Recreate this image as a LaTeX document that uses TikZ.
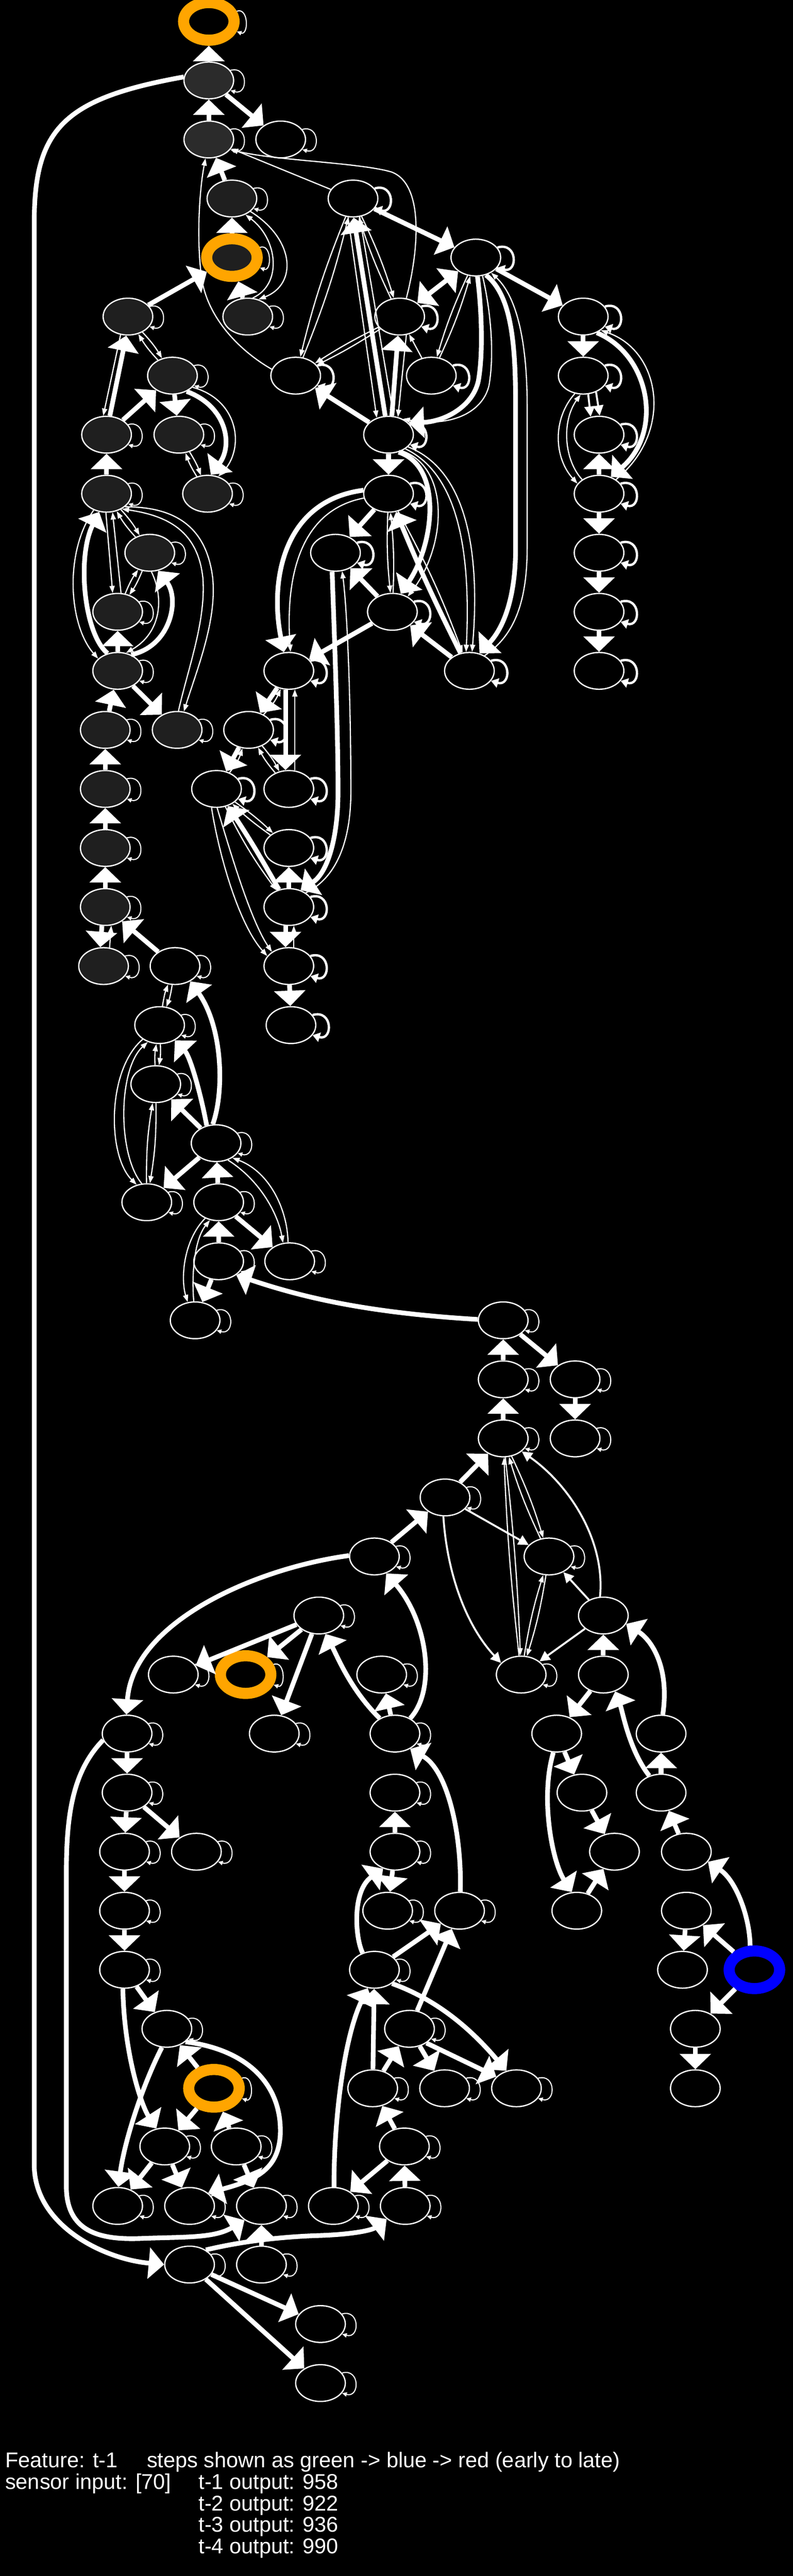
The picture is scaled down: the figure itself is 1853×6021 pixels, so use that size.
\documentclass[tikz,border=0pt]{standalone}
\usepackage{fontspec}
\setmainfont{Liberation Sans}
\usetikzlibrary{shapes.geometric,arrows.meta}
\definecolor{gA}{HTML}{2B2B2B}
\definecolor{gB}{HTML}{1F1F1F}
\definecolor{ornge}{HTML}{FFA500}
\definecolor{blu}{HTML}{0000FF}
\tikzset{
 nd/.style={ellipse, draw=white, line width=3pt, minimum width=116pt, minimum height=86pt, inner sep=0pt, fill=black},
 ngA/.style={nd, fill=gA},
 ngB/.style={nd, fill=gB},
 rng/.style={ellipse, line width=26pt, minimum width=118pt, minimum height=88pt, inner sep=0pt, fill=black},
 e1/.style={draw=white, line width=2.8pt, -{Triangle[length=17pt,width=12pt]}},
 e2/.style={draw=white, line width=4.5pt, -{Triangle[length=24pt,width=24pt]}},
 e4/.style={draw=white, line width=11pt, -{Triangle[length=36pt,width=72pt]}},
 e4d/.style={draw=white, line width=11pt, {Triangle[length=36pt,width=72pt]}-{Triangle[length=36pt,width=72pt]}},
 lp/.style={draw=white, line width=2.5pt, -{Triangle[length=11pt,width=10pt]}},
 lpt/.style={draw=white, line width=5.5pt, -{Triangle[length=17pt,width=22pt]}},
 txt/.style={text=white, anchor=base west, inner sep=0pt, font=\fontsize{50pt}{52pt}\selectfont}
}
\begin{document}
\begin{tikzpicture}[x=1pt,y=1pt]
\useasboundingbox (0,0) rectangle (1853,-6021);
\fill[black] (0,0) rectangle (1853,-6021);
% ---------- nodes ----------
\node[rng,draw=ornge] (n0a) at (488,-50) {};
\node[ngA] (n1a) at (488,-188) {};
\node[ngA] (n2a) at (488,-326) {};
\node[nd] (n2b) at (656,-326) {};
\node[ngB] (n3a) at (542,-464) {};
\node[nd] (n3b) at (825,-464) {};
\node[rng,draw=ornge,fill=gB] (n4a) at (542,-602) {};
\node[nd] (n4b) at (1112,-602) {};
\node[ngB] (n5a) at (299,-740) {};
\node[ngB] (n5b) at (579,-740) {};
\node[nd] (n5c) at (934,-740) {};
\node[nd] (n5d) at (1363,-740) {};
\node[ngB] (n6a) at (403,-878) {};
\node[nd] (n6b) at (691,-878) {};
\node[nd] (n6c) at (1008,-878) {};
\node[nd] (n6d) at (1363,-878) {};
\node[ngB] (n7a) at (249,-1016) {};
\node[ngB] (n7b) at (418,-1016) {};
\node[nd] (n7c) at (908,-1016) {};
\node[nd] (n7d) at (1400,-1016) {};
\node[ngB] (n8a) at (249,-1154) {};
\node[ngB] (n8b) at (485,-1154) {};
\node[nd] (n8c) at (908,-1154) {};
\node[nd] (n8d) at (1400,-1154) {};
\node[ngB] (n9a) at (350,-1292) {};
\node[nd] (n9b) at (784,-1292) {};
\node[nd] (n9c) at (1400,-1292) {};
\node[ngB] (n10a) at (275,-1430) {};
\node[nd] (n10b) at (917,-1430) {};
\node[nd] (n10c) at (1400,-1430) {};
\node[ngB] (n11a) at (275,-1568) {};
\node[nd] (n11b) at (675,-1568) {};
\node[nd] (n11c) at (1097,-1568) {};
\node[nd] (n11d) at (1400,-1568) {};
\node[ngB] (n12a) at (246,-1706) {};
\node[ngB] (n12b) at (414,-1706) {};
\node[nd] (n12c) at (581,-1706) {};
\node[ngB] (n13a) at (246,-1844) {};
\node[nd] (n13b) at (506,-1844) {};
\node[nd] (n13c) at (675,-1844) {};
\node[ngB] (n14a) at (246,-1982) {};
\node[nd] (n14b) at (675,-1982) {};
\node[ngB] (n15a) at (246,-2120) {};
\node[nd] (n15b) at (675,-2120) {};
\node[ngB] (n16a) at (242,-2258) {};
\node[nd] (n16b) at (409,-2258) {};
\node[nd] (n16c) at (675,-2258) {};
\node[nd] (n17a) at (373,-2396) {};
\node[nd] (n17b) at (680,-2396) {};
\node[nd] (n18a) at (364,-2534) {};
\node[nd] (n19a) at (505,-2672) {};
\node[nd] (n20a) at (343,-2810) {};
\node[nd] (n20b) at (511,-2810) {};
\node[nd] (n21a) at (511,-2948) {};
\node[nd] (n21b) at (677,-2948) {};
\node[nd] (n22a) at (456,-3086) {};
\node[nd] (n22b) at (1176,-3086) {};
\node[nd] (n23a) at (1176,-3224) {};
\node[nd] (n23b) at (1344,-3224) {};
\node[nd] (n24a) at (1176,-3362) {};
\node[nd] (n24b) at (1344,-3362) {};
\node[nd] (n25a) at (1040,-3500) {};
\node[nd] (n26a) at (875,-3638) {};
\node[nd] (n26b) at (1283,-3638) {};
\node[nd] (n27a) at (745,-3776) {};
\node[nd] (n27b) at (1410,-3776) {};
\node[nd] (n28a) at (405,-3914) {};
\node[rng,draw=ornge] (n28b) at (574,-3914) {};
\node[nd] (n28c) at (892,-3914) {};
\node[nd] (n28d) at (1218,-3914) {};
\node[nd] (n28e) at (1410,-3914) {};
\node[nd] (n29a) at (297,-4052) {};
\node[nd] (n29b) at (641,-4052) {};
\node[nd] (n29c) at (923,-4052) {};
\node[nd] (n29d) at (1301,-4052) {};
\node[nd] (n29e) at (1545,-4052) {};
\node[nd] (n30a) at (297,-4190) {};
\node[nd] (n30b) at (923,-4190) {};
\node[nd] (n30c) at (1360,-4190) {};
\node[nd] (n30d) at (1545,-4190) {};
\node[nd] (n31a) at (291,-4328) {};
\node[nd] (n31b) at (459,-4328) {};
\node[nd] (n31c) at (923,-4328) {};
\node[nd] (n31d) at (1436,-4328) {};
\node[nd] (n31e) at (1604,-4328) {};
\node[nd] (n32a) at (291,-4466) {};
\node[nd] (n32b) at (906,-4466) {};
\node[nd] (n32c) at (1074,-4466) {};
\node[nd] (n32d) at (1348,-4466) {};
\node[nd] (n32e) at (1604,-4466) {};
\node[nd] (n33a) at (291,-4604) {};
\node[nd] (n33b) at (875,-4604) {};
\node[nd] (n33c) at (1595,-4604) {};
\node[rng,draw=blu] (n33d) at (1763,-4604) {};
\node[nd] (n34a) at (390,-4742) {};
\node[nd] (n34b) at (957,-4742) {};
\node[nd] (n34c) at (1625,-4742) {};
\node[rng,draw=ornge] (n35a) at (500,-4881) {};
\node[nd] (n35b) at (871,-4881) {};
\node[nd] (n35c) at (1039,-4881) {};
\node[nd] (n35d) at (1207,-4881) {};
\node[nd] (n35e) at (1625,-4881) {};
\node[nd] (n36a) at (385,-5017) {};
\node[nd] (n36b) at (552,-5017) {};
\node[nd] (n36c) at (945,-5017) {};
\node[nd] (n37a) at (275,-5156) {};
\node[nd] (n37b) at (443,-5156) {};
\node[nd] (n37c) at (611,-5156) {};
\node[nd] (n37d) at (779,-5156) {};
\node[nd] (n37e) at (947,-5156) {};
\node[nd] (n38a) at (443,-5293) {};
\node[nd] (n38b) at (611,-5293) {};
\node[nd] (n39a) at (749,-5432) {};
\node[nd] (n40a) at (749,-5570) {};
% ---------- self loops ----------
\foreach \n in {n1a,n2a,n2b,n3a,n5a,n5b,n6a,n7a,n7b,n8a,n8b,n9a,n10a,n11a,n12a,n12b,n13a,n14a,n15a,n16a,n16b,n17a,n18a,n19a,n20a,n20b,n21a,n21b,n22a,n22b,n23a,n23b,n24a,n24b,n25a,n26a,n26b,n27a,n28a,n28c,n28d,n29a,n29b,n29c,n30a,n30b,n31a,n31b,n31c,n32a,n32b,n32c,n33a,n33b,n34a,n34b,n35b,n35c,n35d,n36a,n36b,n36c,n37a,n37b,n37c,n37d,n37e,n38a,n38b,n39a,n40a}
  \draw[lp] (\n.25) .. controls +(42,12) and +(42,-12) .. (\n.-25);
\foreach \n in {n3b,n4b,n5c,n6b,n6c,n7c,n8c,n9b,n10b,n11b,n11c,n12c,n13b,n13c,n14b,n15b,n16c,n17b,n5d,n6d,n7d,n8d,n9c,n10c,n11d}
  \draw[lpt] (\n.25) .. controls +(48,14) and +(48,-14) .. (\n.-25);
\foreach \n in {n0a,n4a,n28b,n35a}
  \draw[lp] (\n.20) .. controls +(28,10) and +(28,-10) .. (\n.-20);
% ---------- top cluster ----------
\draw[e4] (n1a) -- (n0a);
\draw[e4] (n2a) -- (n1a);
\draw[e4] (n1a) -- (n2b);
\draw[e4] (n3a) -- (n2a);
\draw[e4] (n4a) -- (n3a);
\draw[e1] (n3b) -- (n2a);
\draw[e1] (n5c.70) .. controls (980,-580) and (990,-430) .. (915,-402) .. controls (840,-380) and (640,-375) .. (n2a.-25);
\draw[e1] (n6b.165) .. controls (560,-820) and (480,-740) .. (470,-640) .. controls (460,-560) and (465,-450) .. (n2a.-100);
\draw[e1] (n3a.-35) .. controls (690,-560) and (695,-665) .. (n5b.58);
\draw[e1] (n5b.75) .. controls (660,-665) and (650,-560) .. (n3a.-50);
\draw[e4] (n5b) -- (n4a);
\draw[e4] (n5a) -- (n4a);
\draw[e4] (n3b) -- (n4b);
\draw[e1] (n3b) to[bend right=4] (n6b);
\draw[e1] (n6b) to[bend right=4] (n3b);
\draw[e1] (n3b.-105) -- (n7c.125);
\draw[e4] (n7c.100) -- (n3b.-88);
\draw[e1] (n3b.-70) -- (n7c.75);
\draw[e1] (n3b) to[bend left=4] (n5c);
\draw[e1] (n5c) to[bend left=4] (n3b);
\draw[e4d] (n4b) -- (n5c);
\draw[e1] (n4b) to[bend right=4] (n6c);
\draw[e1] (n6c) to[bend right=4] (n4b);
\draw[e4] (n4b.-85) .. controls (1125,-720) and (1130,-820) .. (1118,-890) .. controls (1105,-950) and (1040,-985) .. (n7c.30);
\draw[e1] (n4b.-70) .. controls (1148,-730) and (1155,-830) .. (1143,-900) .. controls (1130,-960) and (1060,-1000) .. (n7c.48);
\draw[e4] (n4b.-60) .. controls (1195,-690) and (1205,-800) .. (1205,-950) -- (1205,-1280) .. controls (1205,-1420) and (1165,-1480) .. (n11c.60);
\draw[e1] (n11c.45) .. controls (1195,-1490) and (1232,-1420) .. (1232,-1280) -- (1232,-950) .. controls (1232,-790) and (1205,-690) .. (n4b.-45);
\draw[e4] (n4b) -- (n5d);
\draw[e1] (n5c) to[bend left=3] (n6b);
\draw[e1] (n5c) to[bend right=3] (n6b);
\draw[e4] (n7c) -- (n6b);
\draw[e4] (n7c.80) -- (n5c.-95);
\draw[e1] (n5c.-70) -- (n7c.62);
\draw[e1] (n6c) -- (n5c);
\draw[e4] (n7c) -- (n8c);
\draw[e4] (n8c.172) .. controls (660,-1170) and (630,-1360) .. (n11b.105);
\draw[e1] (n8c.190) .. controls (690,-1195) and (668,-1370) .. (n11b.85);
\draw[e4] (n8c) -- (n9b);
\draw[e4] (n10b) -- (n9b);
\draw[e1] (n8c) to[bend right=4] (n10b);
\draw[e1] (n10b) to[bend right=4] (n8c);
\draw[e4] (n11c) to[bend left=2] (n8c);
\draw[e1] (n8c) to[bend left=4] (n11c);
\draw[e4] (n7c.-60) .. controls (1035,-1090) and (1015,-1270) .. (n10b.65);
\draw[e1] (n7c.-50) .. controls (1055,-1095) and (1042,-1280) .. (n10b.45);
\draw[e1] (n7c.-40) .. controls (1075,-1110) and (1100,-1300) .. (n11c.100);
\draw[e1] (n7c.-32) .. controls (1095,-1100) and (1122,-1300) .. (n11c.82);
\draw[e4] (n10b) -- (n11b);
\draw[e4] (n11c) -- (n10b);
\draw[e4] (n9b.-100) .. controls (780,-1450) and (790,-1700) .. (790,-1850) .. controls (790,-1960) and (765,-2040) .. (n15b.55);
\draw[e1] (n15b.40) .. controls (790,-2050) and (820,-1960) .. (820,-1850) .. controls (820,-1650) and (812,-1430) .. (n9b.-70);
\draw[e4] (n11b) -- (n12c);
\draw[e1] (n12c) to[bend right=10] (n11b);
\draw[e4] (n11b.-100) -- (n13c.100);
\draw[e1] (n13c.72) -- (n11b.-72);
\draw[e4] (n12c) -- (n13b);
\draw[e1] (n13b) to[bend right=10] (n12c);
\draw[e1] (n12c) to[bend left=6] (n13c);
\draw[e1] (n13c) to[bend left=6] (n12c);
\draw[e1] (n13b) to[bend left=4] (n14b);
\draw[e1] (n14b) to[bend left=4] (n13b);
\draw[e4] (n15b) to[bend right=2] (n13b);
\draw[e1] (n13b) to[bend right=5] (n15b);
\draw[e1] (n13b.-105) .. controls (512,-2000) and (558,-2160) .. (n16c.155);
\draw[e1] (n13b.-88) .. controls (538,-1990) and (585,-2150) .. (n16c.140);
\draw[e4] (n15b) -- (n14b);
\draw[e4] (n15b.-100) -- (n16c.100);
\draw[e1] (n16c.75) -- (n15b.-75);
\draw[e4] (n16c) -- (n17b);
% ---------- left cluster ----------
\draw[e1] (n5a) to[bend left=6] (n6a);
\draw[e1] (n6a) to[bend left=6] (n5a);
\draw[e4] (n7a.80) -- (n5a.-95);
\draw[e1] (n5a.-112) -- (n7a.100);
\draw[e4] (n7a) -- (n6a);
\draw[e4] (n6a) -- (n7b);
\draw[e4] (n6a.-48) .. controls (530,-950) and (545,-1040) .. (n8b.80);
\draw[e1] (n6a.-30) .. controls (560,-935) and (572,-1050) .. (n8b.58);
\draw[e4] (n8a) -- (n7a);
\draw[e1] (n7b) to[bend left=6] (n8b);
\draw[e1] (n8b) to[bend left=6] (n7b);
\draw[e1] (n8a) to[bend left=6] (n9a);
\draw[e1] (n9a) to[bend left=6] (n8a);
\draw[e1] (n8a.-92) -- (n10a.105);
\draw[e1] (n10a.80) -- (n8a.-72);
\draw[e4] (n11a.120) .. controls (195,-1480) and (180,-1300) .. (n8a.-112);
\draw[e1] (n8a.-128) .. controls (150,-1290) and (160,-1460) .. (n11a.148);
\draw[e1] (n8a.-35) .. controls (390,-1185) and (480,-1215) .. (497,-1350) .. controls (507,-1450) and (462,-1560) .. (n12b.70);
\draw[e1] (n12b.86) .. controls (440,-1560) and (482,-1450) .. (474,-1350) .. controls (462,-1240) and (390,-1205) .. (n8a.-45);
\draw[e1] (n9a) to[bend left=6] (n10a);
\draw[e1] (n10a) to[bend left=6] (n9a);
\draw[e4] (n11a.50) .. controls (400,-1510) and (420,-1400) .. (n9a.-65);
\draw[e1] (n9a.-85) .. controls (385,-1400) and (375,-1480) .. (n11a.65);
\draw[e4] (n11a) -- (n10a);
\draw[e4] (n11a) -- (n12b);
\draw[e4] (n12a) -- (n11a);
\draw[e4] (n13a) -- (n12a);
\draw[e4] (n14a) -- (n13a);
\draw[e4] (n15a) -- (n14a);
\draw[e4] (n15a.-100) -- (n16a.100);
\draw[e1] (n16a.72) -- (n15a.-72);
\draw[e4] (n16b) -- (n15a);
\draw[e1] (n16b) to[bend left=6] (n17a);
\draw[e1] (n17a) to[bend left=6] (n16b);
\draw[e4] (n19a.100) .. controls (525,-2550) and (520,-2400) .. (n16b.-45);
\draw[e1] (n17a) to[bend left=6] (n18a);
\draw[e1] (n18a) to[bend left=6] (n17a);
\draw[e1] (n17a.-140) .. controls (250,-2500) and (250,-2700) .. (n20a.120);
\draw[e1] (n20a.105) .. controls (275,-2700) and (275,-2500) .. (n17a.-125);
\draw[e4] (n19a.118) .. controls (470,-2560) and (445,-2470) .. (n17a.-45);
\draw[e1] (n18a) to[bend left=5] (n20a);
\draw[e1] (n20a) to[bend left=5] (n18a);
\draw[e4] (n19a) -- (n18a);
\draw[e4] (n19a) -- (n20a);
\draw[e4] (n20b) -- (n19a);
\draw[e1] (n19a.-55) .. controls (610,-2760) and (650,-2840) .. (n21b.110);
\draw[e1] (n21b.95) .. controls (672,-2830) and (632,-2740) .. (n19a.-42);
\draw[e4] (n21a) -- (n20b);
\draw[e1] (n20b.-130) .. controls (428,-2900) and (422,-2990) .. (n22a.112);
\draw[e1] (n22a.94) .. controls (448,-2990) and (452,-2900) .. (n20b.-116);
\draw[e4] (n20b) -- (n21b);
\draw[e4] (n21a) -- (n22a);
\draw[e4] (n22b.178) .. controls (850,-3068) and (700,-3030) .. (n21a.-38);
% ---------- lower right cluster ----------
\draw[e4] (n22b) -- (n23b);
\draw[e4] (n23a) -- (n22b);
\draw[e4] (n23b) -- (n24b);
\draw[e4] (n24a) -- (n23a);
\draw[e4] (n25a) -- (n24a);
\draw[e2] (n25a) -- (n26b);
\draw[e2] (n25a.-95) .. controls (1045,-3680) and (1090,-3800) .. (n28d.150);
\draw[e1] (n24a) to[bend left=2] (n28d);
\draw[e1] (n28d) to[bend left=2] (n24a);
\draw[e1] (n24a) to[bend left=4] (n26b);
\draw[e1] (n26b) to[bend left=4] (n24a);
\draw[e2] (n27b.100) .. controls (1415,-3600) and (1330,-3470) .. (n24a.-35);
\draw[e2] (n27b) -- (n26b);
\draw[e1] (n28d) to[bend left=4] (n26b);
\draw[e1] (n26b) to[bend left=4] (n28d);
\draw[e2] (n27b) -- (n28d);
\draw[e4] (n28e) -- (n27b);
\draw[e4] (n29e.85) .. controls (1565,-3900) and (1525,-3835) .. (n27b.-20);
\draw[e4] (n28e) -- (n29d);
\draw[e4] (n30d.125) .. controls (1470,-4090) and (1455,-4000) .. (n28e.-55);
\draw[e4] (n29d) -- (n30c);
\draw[e4] (n29d.-100) .. controls (1262,-4200) and (1290,-4350) .. (n32d.105);
\draw[e4] (n30c) -- (n31d);
\draw[e4] (n32d) -- (n31d);
\draw[e4] (n30d) -- (n29e);
\draw[e4] (n31e) -- (n30d);
\draw[e4] (n33d.100) .. controls (1752,-4480) and (1720,-4395) .. (n31e.-25);
\draw[e4] (n32e) -- (n33c);
\draw[e4] (n33d) -- (n32e);
\draw[e4] (n33d) -- (n34c);
\draw[e4] (n34c) -- (n35e);
% ---------- lower middle cluster ----------
\draw[e4] (n32c.88) .. controls (1080,-4300) and (1050,-4140) .. (n29c.-45);
\draw[e4] (n26a) -- (n25a);
\draw[e4] (n26a.178) .. controls (600,-3665) and (310,-3790) .. (n29a.92);
\draw[e4] (n27a) -- (n28a);
\draw[e4] (n27a) -- (n28b);
\draw[e4] (n27a) -- (n29b);
\draw[e4] (n29c.135) .. controls (820,-3950) and (790,-3875) .. (n27a.-70);
\draw[e4] (n29c) -- (n28c);
\draw[e4] (n29c.45) .. controls (1020,-3950) and (1000,-3790) .. (n26a.-55);
\draw[e4] (n29a) -- (n30a);
\draw[e4] (n30a) -- (n31a);
\draw[e4] (n30a) -- (n31b);
\draw[e4] (n31a) -- (n32a);
\draw[e4] (n32a) -- (n33a);
\draw[e4] (n31c) -- (n30b);
\draw[e4] (n31c) -- (n32b);
\draw[e4] (n33b.125) .. controls (830,-4530) and (822,-4420) .. (n31c.-125);
\draw[e4] (n33b) -- (n32c);
\draw[e4] (n34b) -- (n32c);
\draw[e4] (n33a) -- (n34a);
\draw[e4] (n33a.-95) .. controls (290,-4800) and (330,-4920) .. (n36a.115);
\draw[e4] (n34a.-105) .. controls (330,-4880) and (290,-5010) .. (n37a.88);
\draw[e4] (n35a) -- (n34a);
\draw[e4] (n34a.-35) .. controls (575,-4790) and (660,-4870) .. (655,-4990) .. controls (650,-5070) and (600,-5095) .. (n37b.35);
\draw[e4] (n35a) -- (n36a);
\draw[e4] (n36b) -- (n35a);
\draw[e4] (n36a) -- (n37a);
\draw[e4] (n36a) -- (n37b);
\draw[e4] (n36b) -- (n37c);
\draw[e4] (n37e) -- (n36c);
\draw[e4] (n36c) -- (n37d);
\draw[e4] (n36c) -- (n35b);
\draw[e4] (n35b) -- (n33b);
\draw[e4] (n37d.88) .. controls (780,-4950) and (805,-4760) .. (n33b.-110);
\draw[e4] (n35b) -- (n34b);
\draw[e4] (n34b) -- (n35c);
\draw[e4] (n33b.-38) .. controls (1010,-4670) and (1090,-4730) .. (n35d.120);
\draw[e4] (n34b.-40) -- (n35d.150);
\draw[e4] (n38a.42) .. controls (560,-5240) and (650,-5228) .. (750,-5225) .. controls (830,-5222) and (870,-5212) .. (n37e.-145);
\draw[e4] (n38b) -- (n37c);
\draw[e4] (n29a.195) .. controls (170,-4140) and (155,-4240) .. (155,-4380) -- (155,-5110) .. controls (155,-5215) and (230,-5236) .. (330,-5232) .. controls (430,-5228) and (500,-5232) .. (n37c.-140);
\draw[e4] (n1a.172) .. controls (150,-230) and (80,-300) .. (80,-520) -- (80,-5060) .. controls (80,-5200) and (240,-5280) .. (n38a.180);
\draw[e4] (n38a) -- (n39a);
\draw[e4] (n38a) -- (n40a);
% ---------- right column (top) ----------
\draw[e4] (n5d) -- (n6d);
\draw[e4] (n5d.-50) .. controls (1520,-830) and (1550,-1010) .. (n8d.55);
\draw[e1] (n8d.40) .. controls (1575,-1010) and (1545,-820) .. (n5d.-38);
\draw[e2] (n6d.-75) -- (n7d.115);
\draw[e2] (n6d.-52) -- (n7d.88);
\draw[e1] (n6d.-115) .. controls (1290,-980) and (1295,-1070) .. (n8d.155);
\draw[e1] (n8d.140) .. controls (1318,-1075) and (1312,-985) .. (n6d.-98);
\draw[e4] (n8d) -- (n7d);
\draw[e4] (n8d) -- (n9c);
\draw[e4] (n9c) -- (n10c);
\draw[e4] (n10c) -- (n11d);
% ---------- legend ----------
\node[txt] (t1) at (12,-5768) {Feature: t-1};
\node[txt] (t2) at (343,-5768) {steps shown as green -> blue -> red (early to late)};
\node[txt] (t3) at (12,-5818) {sensor input: [70]};
\node[txt] (t4) at (464,-5818) {t-1 output: 958};
\node[txt] (t5) at (464,-5868) {t-2 output: 922};
\node[txt] (t6) at (464,-5918) {t-3 output: 936};
\node[txt] (t7) at (464,-5968) {t-4 output: 990};
\end{tikzpicture}
\end{document}
